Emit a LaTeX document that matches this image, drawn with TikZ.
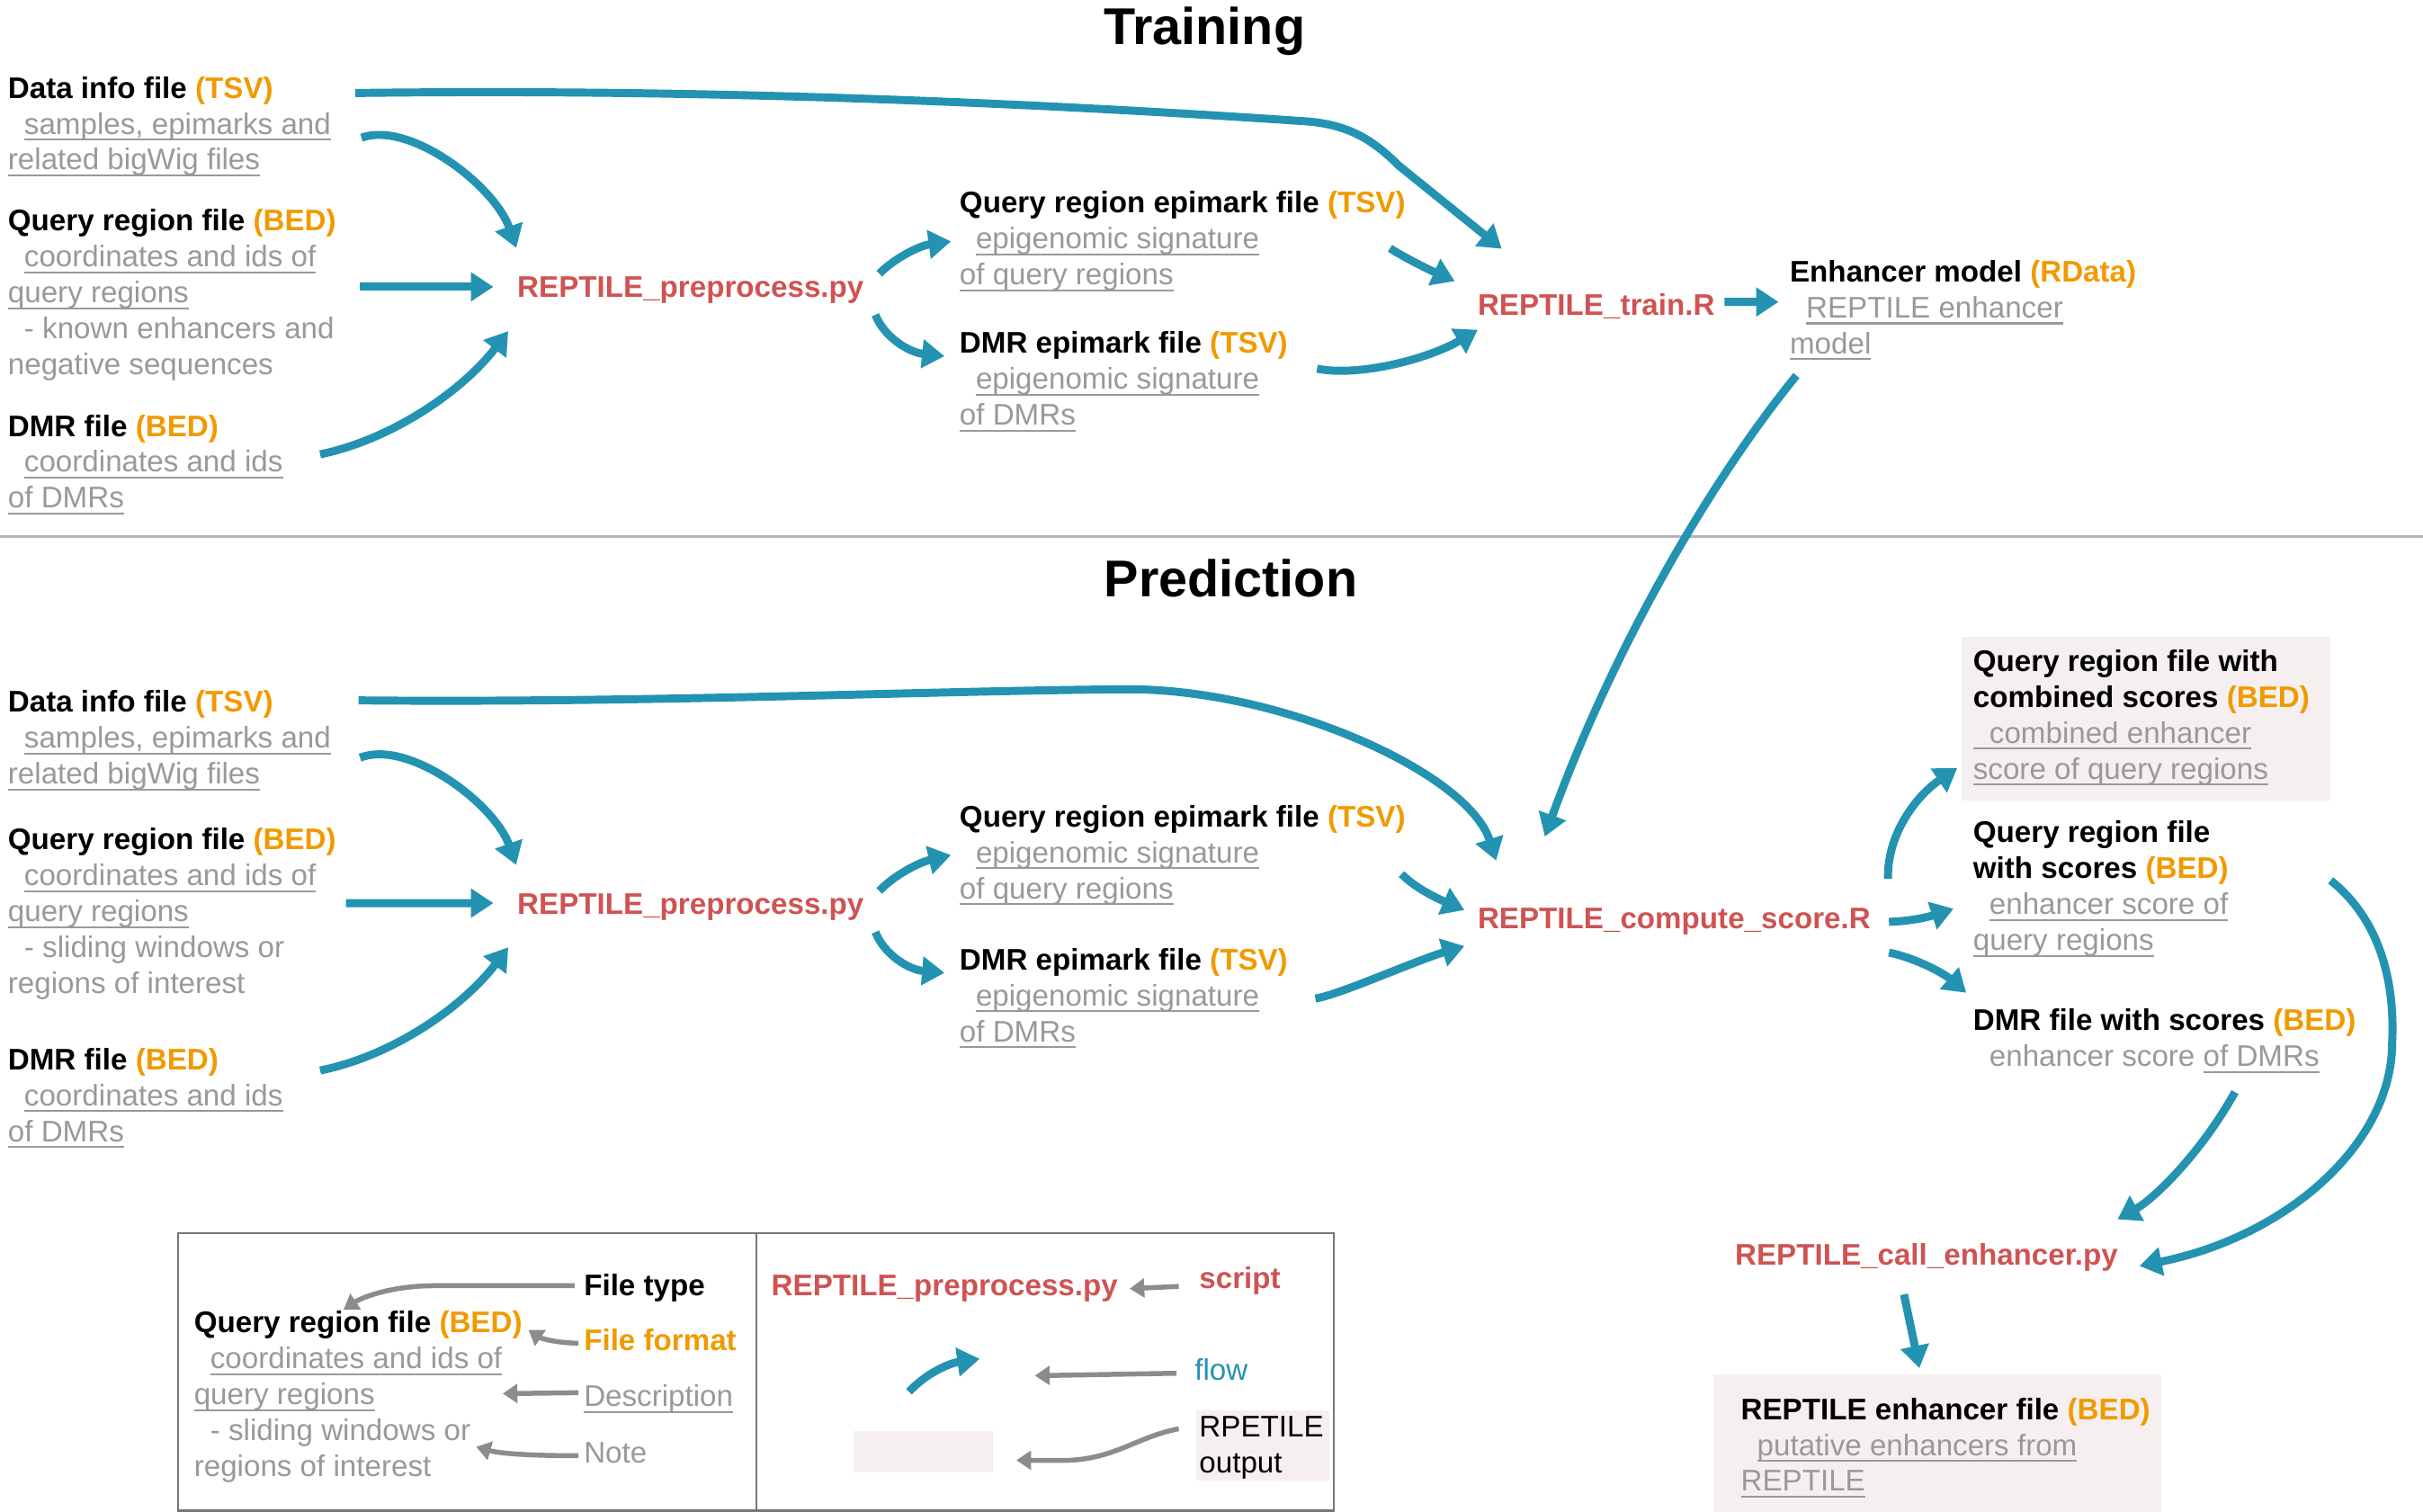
\documentclass[tikz,border=0pt]{standalone}
\usepackage{fontspec}
\setmainfont{Liberation Sans}
\usetikzlibrary{arrows.meta}
\definecolor{flowc}{HTML}{2393B1}
\definecolor{orng}{HTML}{F09A00}
\definecolor{scr}{HTML}{CF5353}
\definecolor{gtxt}{HTML}{999999}
\definecolor{pinkbg}{HTML}{F5F0EF}
\definecolor{sepc}{HTML}{B4B4B4}
\definecolor{larr}{HTML}{8C8C8C}
\definecolor{boxc}{HTML}{777777}
\newcommand\fs{\fontsize{19.3}{23.25}\selectfont}
\newsavebox\ulbox
\newcommand\undl[1]{\sbox\ulbox{#1}\rlap{\rule[-4.2pt]{\wd\ulbox}{1.2pt}}\usebox\ulbox}
\newcommand\blk[1]{\begin{tabular}[t]{@{}l@{}}#1\end{tabular}}
\newcommand\hd[2]{\textbf{#1 \textcolor{orng}{(#2)}}}
\newcommand\ds[1]{\textcolor{gtxt}{\undl{#1}}}
\newcommand\nt[1]{\textcolor{gtxt}{#1}}
\newcommand\ind{\hspace*{10.5pt}}
\tikzset{
  txt/.style={anchor=base west, inner sep=0pt, outer sep=0pt, font=\fs},
  script/.style={txt, text=scr, font=\fs\bfseries},
  ttl/.style={anchor=base, inner sep=0pt, font=\fontsize{33.5}{40}\selectfont\bfseries},
  flow/.style={draw=flowc, line width=5.2pt, -{Triangle[length=14.5pt,width=18pt]}},
  gflow/.style={draw=larr, line width=3.2pt, -{Triangle[length=9.5pt,width=12pt]}},
}
\begin{document}
\begin{tikzpicture}[x=1pt,y=-1pt]
\useasboundingbox (0,0) rectangle (1568,978.4);
% backgrounds
\fill[pinkbg] (1269.2,411.9) rectangle (1508.2,517.9);
\fill[pinkbg] (1108.9,889.2) rectangle (1398.6,978.4);
\draw[sepc, line width=1.6pt] (0,347.4) -- (1568,347.4);
% titles
\node[ttl] (ttitle) at (779.5,29.1) {Training};
\node[ttl] (ptitle) at (796.5,386) {Prediction};
% ---------------- training
\node[txt] (tdata) at (5.2,63.5) {\blk{\hd{Data info file}{TSV}\\ \ind\ds{samples, epimarks and}\\ \ds{related bigWig files}}};
\node[txt] (tqr) at (5.2,149.3) {\blk{\hd{Query region file}{BED}\\ \ind\ds{coordinates and ids of}\\ \ds{query regions}\\ \ind\nt{- known enhancers and}\\ \nt{negative sequences}}};
\node[txt] (tdmr) at (5.2,282.3) {\blk{\hd{DMR file}{BED}\\ \ind\ds{coordinates and ids}\\ \ds{of DMRs}}};
\node[script] (tpre) at (334.8,192.5) {REPTILE\_preprocess.py};
\node[txt] (tqre) at (621,137.9) {\blk{\hd{Query region epimark file}{TSV}\\ \ind\ds{epigenomic signature}\\ \ds{of query regions}}};
\node[txt] (tdmre) at (621,228.5) {\blk{\hd{DMR epimark file}{TSV}\\ \ind\ds{epigenomic signature}\\ \ds{of DMRs}}};
\node[script] (ttrain) at (956.3,203.8) {REPTILE\_train.R};
\node[txt] (tmodel) at (1158.3,182.4) {\blk{\hd{Enhancer model}{RData}\\ \ind\ds{REPTILE enhancer}\\ \ds{model}}};
% ---------------- prediction
\node[txt] (pdata) at (5.2,460.9) {\blk{\hd{Data info file}{TSV}\\ \ind\ds{samples, epimarks and}\\ \ds{related bigWig files}}};
\node[txt] (pqr) at (5.2,549.8) {\blk{\hd{Query region file}{BED}\\ \ind\ds{coordinates and ids of}\\ \ds{query regions}\\ \ind\nt{- sliding windows or}\\ \nt{regions of interest}}};
\node[txt] (pdmr) at (5.2,692.2) {\blk{\hd{DMR file}{BED}\\ \ind\ds{coordinates and ids}\\ \ds{of DMRs}}};
\node[script] (ppre) at (334.8,591.9) {REPTILE\_preprocess.py};
\node[txt] (pqre) at (621,535) {\blk{\hd{Query region epimark file}{TSV}\\ \ind\ds{epigenomic signature}\\ \ds{of query regions}}};
\node[txt] (pdmre) at (621,627.5) {\blk{\hd{DMR epimark file}{TSV}\\ \ind\ds{epigenomic signature}\\ \ds{of DMRs}}};
\node[script] (pcomp) at (956.3,601) {REPTILE\_compute\_score.R};
\node[txt] (pcomb) at (1276.9,434.4) {\blk{\textbf{Query region file with}\\ \hd{combined scores}{BED}\\ \ds{\ind combined enhancer}\\ \ds{score of query regions}}};
\node[txt] (pqrs) at (1276.9,545.3) {\blk{\textbf{Query region file}\\ \hd{with scores}{BED}\\ \ind\ds{enhancer score of}\\ \ds{query regions}}};
\node[txt] (pdmrs) at (1276.9,667) {\blk{\hd{DMR file with scores}{BED}\\ \ind\nt{enhancer score }\ds{of DMRs}}};
\node[script] (pcall) at (1122.8,818.9) {REPTILE\_call\_enhancer.py};
\node[txt] (penh) at (1126.6,918.5) {\blk{\hd{REPTILE enhancer file}{BED}\\ \ind\ds{putative enhancers from}\\ \ds{REPTILE}}};
% ---------------- legend
\draw[boxc, line width=1.2pt] (115.1,797.8) rectangle (863.2,977.5);
\draw[boxc, line width=1.2pt] (489.4,797.8) -- (489.4,977.5);
\node[txt] (lft) at (377.9,838.3) {\textbf{File type}};
\node[txt] (lqr) at (125.6,862.4) {\blk{\hd{Query region file}{BED}\\ \ind\ds{coordinates and ids of}\\ \ds{query regions}\\ \ind\nt{- sliding windows or}\\ \nt{regions of interest}}};
\node[txt] (lff) at (377.9,874) {\textbf{\textcolor{orng}{File format}}};
\node[txt] (ldesc) at (377.9,910.1) {\ds{Description}};
\node[txt] (lnote) at (377.9,946.4) {\nt{Note}};
\node[script] (lscx) at (499.2,838.7) {REPTILE\_preprocess.py};
\node[script] (lscript) at (776.1,833.8) {script};
\node[txt, text=flowc] (lflow) at (773.1,893) {flow};
\node[fill=pinkbg, inner sep=0pt, minimum width=90.6pt, minimum height=26.8pt] (lpink) at (597.5,939.3) {};
\node[fill=pinkbg, inner sep=0pt, minimum width=85.8pt, minimum height=45.2pt] (loutbg) at (817.2,935.5) {};
\node[txt] (lout) at (776.1,929.9) {\blk{RPETILE\\ output}};
% ---------------- training flows
\draw[flow] ([shift={(224.8,-3.3)}]tdata.base west) .. controls (400,58) and (600,62) .. (845,78.5) .. controls (872,80.5) and (888,90) .. (905,107) -- ([shift={(15.5,-42.8)}]ttrain.base west);
\draw[flow] ([shift={(228.7,25.6)}]tdata.base west) .. controls (265,78) and (320,120) .. ([shift={(-0.7,-32.1)}]tpre.base west);
\draw[flow] ([shift={(227.9,36.3)}]tqr.base west) -- ([shift={(-15.5,-6.9)}]tpre.base west);
\draw[flow] ([shift={(202,11.7)}]tdmr.base west) .. controls (255,284) and (300,252) .. ([shift={(-5.9,21.8)}]tpre.base west);
\draw[flow] ([shift={(234.2,-15.4)}]tpre.base west) .. controls (579,167) and (595,159) .. ([shift={(-5.6,18.3)}]tqre.base west);
\draw[flow] ([shift={(231.7,11.2)}]tpre.base west) .. controls (572,218) and (588,228) .. ([shift={(-9.8,2)}]tdmre.base west);
\draw[flow] ([shift={(278.5,22.8)}]tqre.base west) .. controls (912,168.5) and (927,175.5) .. ([shift={(-14.9,-21.8)}]ttrain.base west);
\draw[flow] ([shift={(231.3,10.1)}]tdmre.base west) .. controls (880,244) and (925,232) .. ([shift={(0,9.6)}]ttrain.base west);
\draw[flow] ([shift={(159.7,-8.4)}]ttrain.base west) -- ([shift={(-7.3,13)}]tmodel.base west);
\draw[flow] ([shift={(4.2,60.6)}]tmodel.base west) .. controls (1100,320) and (1040,430) .. ([shift={(43.4,-59.7)}]pcomp.base west);
% ---------------- prediction flows
\draw[flow] ([shift={(226.8,-7.7)}]pdata.base west) .. controls (420,455) and (600,447) .. (730,446) .. controls (830,446) and (950,500) .. ([shift={(11.9,-44.1)}]pcomp.base west);
\draw[flow] ([shift={(227.8,29.4)}]pdata.base west) .. controls (264,478) and (320,520) .. ([shift={(-0.8,-32.2)}]ppre.base west);
\draw[flow] ([shift={(218.7,34.6)}]pqr.base west) -- ([shift={(-15.5,-7.5)}]ppre.base west);
\draw[flow] ([shift={(202,0.5)}]pdmr.base west) .. controls (255,683) and (300,651) .. ([shift={(-5.9,21.1)}]ppre.base west);
\draw[flow] ([shift={(234.2,-15.4)}]ppre.base west) .. controls (579,566) and (595,558) .. ([shift={(-5.6,18.3)}]pqre.base west);
\draw[flow] ([shift={(231.7,11.2)}]ppre.base west) .. controls (572,617.5) and (588,627.5) .. ([shift={(-9.8,2)}]pdmre.base west);
\draw[flow] ([shift={(285.9,30.6)}]pqre.base west) .. controls (918,576.5) and (934,583) .. ([shift={(-8.6,-12.1)}]pcomp.base west);
\draw[flow] ([shift={(230.2,18.6)}]pdmre.base west) .. controls (866,644) and (915,622) .. ([shift={(-8.6,11.2)}]pcomp.base west);
\draw[flow] ([shift={(265.5,-32.4)}]pcomp.base west) .. controls (1221,540) and (1240,515) .. ([shift={(-10.3,62.6)}]pcomb.base west);
\draw[flow] ([shift={(266.1,-4.5)}]pcomp.base west) .. controls (1240,596) and (1252,592) .. ([shift={(-12.7,42.7)}]pqrs.base west);
\draw[flow] ([shift={(266.1,15.4)}]pcomp.base west) .. controls (1240,620) and (1258,630) .. ([shift={(-4.5,-24.6)}]pdmrs.base west);
\draw[flow] ([shift={(169.4,39.7)}]pdmrs.base west) .. controls (1425,745) and (1395,775) .. ([shift={(247.5,-29.9)}]pcall.base west);
\draw[flow] ([shift={(231.3,24.4)}]pqrs.base west) .. controls (1540,595) and (1550,635) .. (1548,675) .. controls (1548,740) and (1480,800) .. ([shift={(261.7,0.3)}]pcall.base west);
\draw[flow] ([shift={(109.3,18.7)}]pcall.base west) -- ([shift={(115.5,-33.2)}]penh.base west);
% ---------------- legend arrows
\draw[gflow] ([shift={(-6.1,-6.3)}]lft.base west) -- (280,832) .. controls (255,832) and (235,839) .. ([shift={(96.7,-14.9)}]lqr.base west);
\draw[gflow] ([shift={(-3.6,-4.8)}]lff.base west) .. controls (360,869) and (350,866) .. ([shift={(216.3,-1.9)}]lqr.base west);
\draw[gflow] ([shift={(-3.6,-8.9)}]ldesc.base west) -- ([shift={(199.7,39.4)}]lqr.base west);
\draw[gflow] ([shift={(-3.6,-4.4)}]lnote.base west) .. controls (350,942) and (325,941) .. ([shift={(182.5,73.8)}]lqr.base west);
\draw[gflow] ([shift={(-13.3,-1.4)}]lscript.base west) -- ([shift={(231.8,-4.8)}]lscx.base west);
\coordinate (fs) at (588.2,900.6);
\coordinate (fe) at (634,879.3);
\draw[flow] (fs) .. controls (600,888) and (615,882) .. (fe);
\coordinate (flowpt) at (669.7,890.2);
\draw[gflow] ([shift={(-11.7,-4.4)}]lflow.base west) -- (flowpt);
\draw[gflow] ([shift={(-13.3,-5.4)}]lout.base west) .. controls (735,930) and (722,944) .. (690,945) -- ([shift={(14.7,5.6)}]lpink.east);
\end{tikzpicture}
\end{document}
